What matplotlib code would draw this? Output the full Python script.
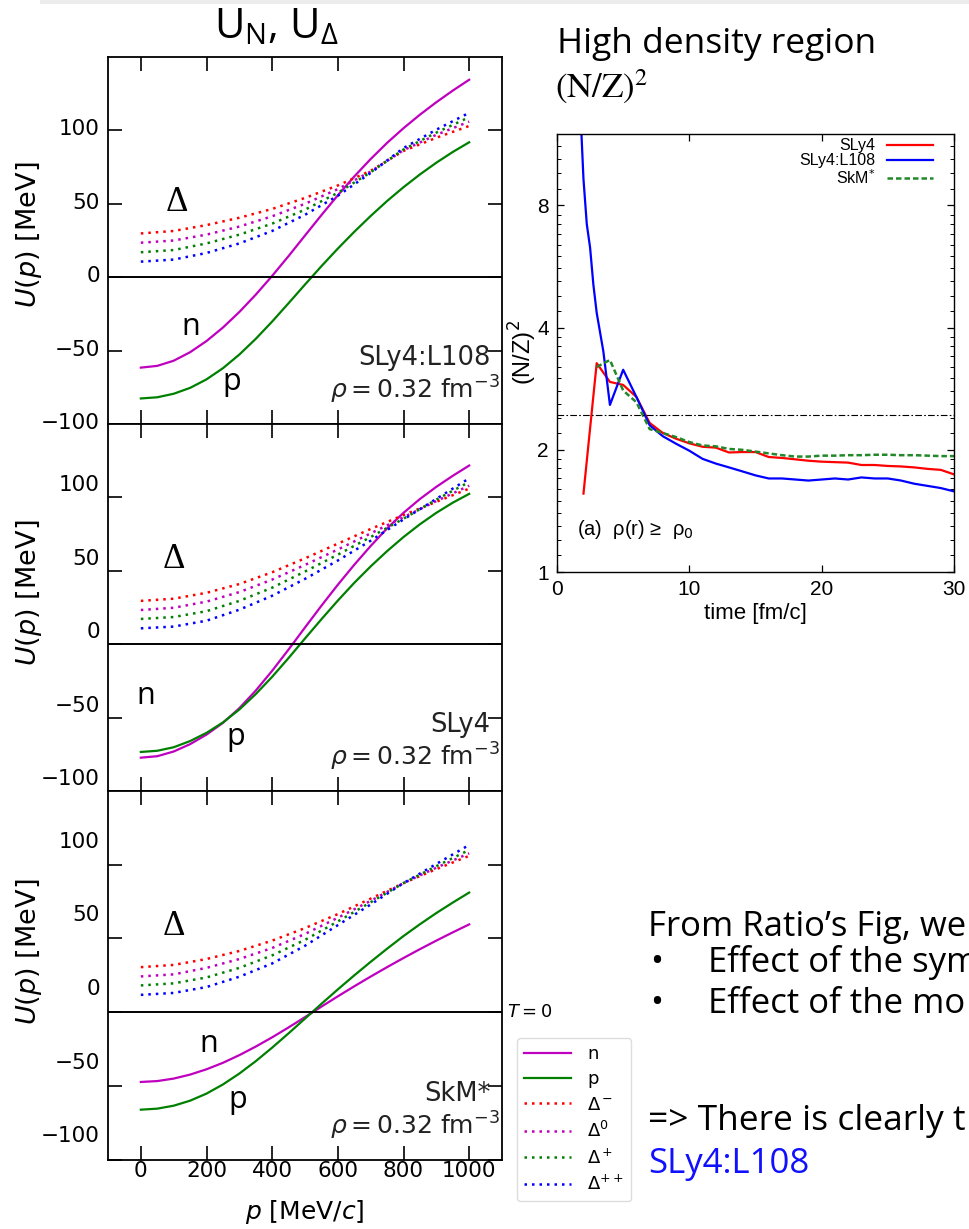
import numpy as np
import matplotlib.pyplot as plt
from matplotlib.transforms import ScaledTranslation
from matplotlib.ticker import NullFormatter
from matplotlib.patches import Rectangle

# ---------------- left: U(p) at rho = 0.32 fm^-3, T = 0 ----------------
p_nuc = list(range(0, 1001, 50))     # MeV/c (n, p curves)
p_del = list(range(0, 1001, 100))    # MeV/c (Delta curves)

# SLy4:L108
n_L108 = [-61.6, -60.4, -56.9, -51.1, -43.5, -34.3, -23.7, -11.9, 0.9, 14.4, 28.4,
          42.3, 55.8, 68.6, 80.5, 91.5, 101.5, 110.7, 119.2, 127.1, 134.5]
p_L108 = [-82.6, -81.8, -79.4, -75.4, -69.6, -62.0, -52.7, -42.0, -30.2, -17.7, -5.0,
          7.5, 19.5, 30.9, 41.7, 51.9, 61.3, 70.0, 78.0, 85.3, 91.9]
dm_L108 = [29.8, 31.5, 35.5, 40.5, 46.5, 54, 62.5, 72.5, 86, 95, 103]
d0_L108 = [23.5, 25, 29, 34.5, 41.5, 50, 60, 72, 86.5, 97, 106]
dp_L108 = [17, 18.5, 23, 29, 36.5, 46, 57.5, 71.5, 87, 98.5, 109]
dpp_L108 = [10.6, 12, 16.5, 23, 31.5, 42.5, 55.5, 71, 88, 100.5, 112]

# SLy4
n_SLy4 = [-77.3, -76.3, -73.1, -68.1, -61.6, -53.6, -43.6, -31.6, -18.1, -3.6, 11.4,
          26.2, 40.5, 54.1, 66.9, 78.9, 89.5, 98.9, 107.2, 114.7, 121.7]
p_SLy4 = [-73.4, -72.6, -70.2, -66.0, -60.4, -53.3, -44.5, -34.0, -22.2, -9.4, 3.9,
          17.0, 29.7, 41.8, 53.0, 63.4, 73.0, 81.7, 89.5, 96.4, 102.4]
dm_SLy4 = [29.5, 31, 35, 41, 49, 58.5, 68.5, 78.5, 88, 97, 106]
d0_SLy4 = [23.3, 24.8, 29, 35.5, 44, 54, 64.5, 75.5, 86.5, 97.5, 108]
dp_SLy4 = [17.2, 18.5, 22.5, 29.5, 38.5, 49.5, 61, 73, 85.5, 98.5, 110.5]
dpp_SLy4 = [10.8, 12, 16, 23.5, 33, 44.5, 57, 70.5, 85, 99, 113]

# SkM*
n_SkM = [-47.4, -46.8, -45.1, -42.4, -38.8, -34.4, -29.2, -23.4, -17.1, -10.4, -3.4,
         3.7, 10.7, 17.5, 24.1, 30.5, 36.7, 42.7, 48.5, 54.1, 59.5]
p_SkM = [-66.2, -65.5, -63.5, -60.1, -55.3, -49.1, -41.7, -33.3, -24.1, -14.4, -4.4,
         5.6, 15.4, 24.9, 34.1, 43.0, 51.6, 59.6, 67.2, 74.3, 81.1]
dm_SkM = [30.5, 32, 36, 41.5, 48.5, 57, 66.5, 77, 87.5, 97, 106]
d0_SkM = [24.2, 25.6, 30, 36, 43.5, 53, 64, 75.5, 87.5, 98, 107.7]
dp_SkM = [18.1, 19.5, 23.5, 30, 38.5, 49, 61.5, 74.5, 87.5, 99, 110]
dpp_SkM = [11.7, 13, 17, 24, 33, 45, 59, 73, 87.5, 100.5, 113.4]

forces = ['SLy4:L108', 'SLy4', 'SkM*']
delta_labels = [r'$\Delta^-$', r'$\Delta^0$', r'$\Delta^+$', r'$\Delta^{++}$']

# ---------------- right: (N/Z)^2 in the high density region ----------------
t_sly4 = [2, 3, 4, 5, 6, 7, 8, 9, 10, 11, 12, 13, 14, 15, 16, 17, 18, 19, 20,
          21, 22, 23, 24, 25, 26, 27, 28, 29, 30]
nz_sly4 = [1.56, 3.27, 2.94, 2.89, 2.70, 2.33, 2.20, 2.13, 2.075, 2.035, 2.025, 1.97,
           1.975, 1.975, 1.92, 1.91, 1.895, 1.88, 1.87, 1.865, 1.86, 1.835, 1.835,
           1.825, 1.82, 1.81, 1.795, 1.785, 1.74]
t_l108 = [1.8, 2.0, 2.25, 2.5, 2.75, 3.0, 3.5, 4, 5, 6, 7, 8, 9, 10, 11, 12, 13, 14,
          15, 16, 17, 18, 19, 20, 21, 22, 23, 24, 25, 26, 27, 28, 29, 30]
nz_l108 = [13.0, 9.3, 7.2, 6.3, 5.1, 4.35, 3.5, 2.58, 3.15, 2.70, 2.30, 2.16, 2.07,
           1.99, 1.90, 1.85, 1.81, 1.77, 1.73, 1.70, 1.70, 1.69, 1.68, 1.69, 1.70,
           1.69, 1.71, 1.70, 1.70, 1.68, 1.65, 1.63, 1.61, 1.58]
t_skm = [3, 4, 5, 6, 7, 8, 9, 10, 11, 12, 13, 14, 15, 16, 17, 18, 19, 20, 21, 22,
         23, 24, 25, 26, 27, 28, 29, 30]
nz_skm = [3.2, 3.33, 2.80, 2.62, 2.25, 2.20, 2.15, 2.09, 2.05, 2.04, 2.01, 2.0, 1.98,
          1.96, 1.94, 1.925, 1.925, 1.935, 1.935, 1.94, 1.94, 1.945, 1.945, 1.94,
          1.94, 1.935, 1.93, 1.93]
nz_initial = 2.44

W, H = 969, 1229
fig = plt.figure(figsize=(W / 100, H / 100), dpi=100)
fig.add_artist(Rectangle((40 / W, 1 - 4 / H), 1, 4 / H, transform=fig.transFigure,
                         color='#ececec', lw=0))


def box(x0, y0, x1, y1):
    # pixel box (origin top-left) -> figure fraction rect
    return [x0 / W, 1 - y1 / H, (x1 - x0) / W, (y1 - y0) / H]


left_boxes = [(108, 57, 502, 424), (108, 424, 502, 791), (108, 791, 502, 1159.5)]
all_n = [n_L108, n_SLy4, n_SkM]
all_p = [p_L108, p_SLy4, p_SkM]
all_d = [[dm_L108, d0_L108, dp_L108, dpp_L108],
         [dm_SLy4, d0_SLy4, dp_SLy4, dpp_SLy4],
         [dm_SkM, d0_SkM, dp_SkM, dpp_SkM]]
delta_colors = ['r', 'm', 'g', 'b']
label_shift = [3, 14, 25]          # px, tick labels sit above the ticks in the slide
ylab_y = [0.515, 0.54, 0.565]
n_pos = [(125, -39.5), (-13, -40.7), (178, -27)]
p_pos = [(247, -77), (262, -69), (267, -65)]
D_pos = [(76, 45), (66, 52), (66, 52)]

yt = [-100, -50, 0, 50, 100]
for i in range(3):
    ax = fig.add_axes(box(*left_boxes[i]))
    ln_n, = ax.plot(p_nuc, all_n[i], color='m', lw=1.6, label='n')
    ln_p, = ax.plot(p_nuc, all_p[i], color='g', lw=1.6, label='p')
    dl = []
    for d, c, lab in zip(all_d[i], delta_colors, delta_labels):
        h, = ax.plot(p_del, d, color=c, lw=1.8, ls=(0, (1, 2)), label=lab)
        dl.append(h)
    ax.axhline(0, color='k', lw=1.4)
    ax.set_xlim(-100, 1100)
    ax.set_ylim(-100, 150)
    ax.set_xticks([0, 200, 400, 600, 800, 1000])
    ax.set_yticks(yt)
    ax.tick_params(direction='in', length=10, width=1.2, top=True, right=True,
                   labelleft=False, labelbottom=(i == 2), labelsize=15.5, pad=1)
    for s in ax.spines.values():
        s.set_linewidth(1.3)
    tr = ax.get_yaxis_transform() + ScaledTranslation(-0.08, label_shift[i] / 100,
                                                      fig.dpi_scale_trans)
    for v in yt:
        ax.text(0, v, str(v).replace('-', '\u2212'), transform=tr, ha='right',
                va='center_baseline', fontsize=15.5)
    ax.text(-0.2, ylab_y[i], r'$U(p)$ [MeV]', transform=ax.transAxes, rotation=90,
            ha='center', va='center', fontsize=19.5)
    ax.text(0.97, 0.16, forces[i], transform=ax.transAxes, ha='right',
            va='baseline', fontsize=18.5, color='#222222')
    ax.text(0.995, 0.068, r'$\rho = 0.32$ fm$^{-3}$', transform=ax.transAxes,
            ha='right', va='baseline', fontsize=18, color='#222222')
    ax.text(*n_pos[i], 'n', fontsize=22, family='Open Sans', va='baseline')
    ax.text(*p_pos[i], 'p', fontsize=22, family='Open Sans', va='baseline')
    ax.text(*D_pos[i], 'Δ', fontsize=25, family='Liberation Serif', va='baseline')
    if i == 2:
        ax.set_xlabel(r'$p$ [MeV/$c$]', fontsize=18, labelpad=12)
        ax.text(1.013, 0, r'$T = 0$', transform=ax.get_yaxis_transform(),
                ha='left', va='center', fontsize=13)
        fig.legend([ln_n, ln_p] + dl, ['n', 'p'] + delta_labels,
                   loc='upper left', bbox_to_anchor=(517 / W, 1 - 1038 / H),
                   borderaxespad=0, fontsize=13, handlelength=2.6,
                   handletextpad=0.9, labelspacing=0.4, framealpha=1,
                   edgecolor='#dddddd')

# ---------------- right chart ----------------
ax4 = fig.add_axes(box(557, 134, 954, 572))
ax4.plot(t_sly4, nz_sly4, color='#ff0000', lw=1.6, label='SLy4')
ax4.plot(t_l108, nz_l108, color='#0000ff', lw=1.6, label='SLy4:L108')
ax4.plot(t_skm, nz_skm, color='#23882a', lw=1.8, ls=(0, (2.2, 1.2)), label='SkM$^{*}$')
ax4.axhline(nz_initial, color='k', lw=0.8, ls=(0, (6, 2, 1.5, 2)))
ax4.set_yscale('log', base=2)
ax4.set_xlim(0, 30)
ax4.set_ylim(1, 12)
ax4.set_xticks([0, 10, 20, 30])
ax4.set_yticks([1, 2, 4, 8], labels=['1', '2', '4', '8'])
minor = np.r_[np.arange(1.1, 1.99, 0.1), np.arange(2.2, 3.99, 0.2),
              np.arange(4.4, 7.99, 0.4), np.arange(8.8, 11.99, 0.8)]
ax4.set_yticks(minor, minor=True)
ax4.yaxis.set_minor_formatter(NullFormatter())
ax4.tick_params(which='both', direction='in', top=True, right=True,
                labelsize=15, labelfontfamily='Liberation Sans', pad=6)
ax4.tick_params(which='major', length=5, width=0.9)
ax4.tick_params(which='minor', length=3, width=0.7)
for s in ax4.spines.values():
    s.set_linewidth(1.0)
ax4.text(0.5, -0.094, 'time [fm/c]', transform=ax4.transAxes, ha='center',
         va='center', fontsize=16, family='Liberation Sans')
ax4.text(-0.086, 0.5, '(N/Z)$^2$', transform=ax4.transAxes, rotation=90,
         ha='center', va='center', fontsize=17, family='Liberation Sans')
ax4.text(0.05, 0.096, '(a)  ρ(r) ≥  ρ$_0$', transform=ax4.transAxes, ha='left',
         va='center', fontsize=14.5, family=['Liberation Sans', 'DejaVu Sans'])
ax4.legend(loc='upper right', bbox_to_anchor=(0.947, 0.99), frameon=False,
           markerfirst=False, handlelength=2.9, handletextpad=0.7,
           labelspacing=0.0, borderpad=0, borderaxespad=0,
           prop={'family': 'Liberation Sans', 'size': 11.5})

# ---------------- slide text ----------------
sans = ['Open Sans', 'DejaVu Sans']
fig.text(276 / W, 1 - 38 / H, r'U$_\mathregular{N}$, U$_\mathregular{Δ}$',
         ha='center', va='baseline', fontsize=30, family=sans)
fig.text(557 / W, 1 - 53 / H, 'High density region', ha='left', va='baseline',
         fontsize=25.5, family=sans)
fig.text(555 / W, 1 - 98 / H, r'$\mathrm{(N/Z)}^{2}$', ha='left', va='baseline',
         fontsize=25, math_fontfamily='stix')
fig.text(648 / W, 1 - 936 / H, 'From Ratio’s Fig, we', ha='left', va='baseline',
         fontsize=25, family=sans)
for yb, s in [(972, 'Effect of the sym'), (1013, 'Effect of the mo')]:
    fig.text(650 / W, 1 - yb / H, '•', ha='left', va='baseline', fontsize=25, family=sans)
    fig.text(708 / W, 1 - yb / H, s, ha='left', va='baseline', fontsize=25, family=sans)
fig.text(648 / W, 1 - 1130 / H, '=> There is clearly t', ha='left', va='baseline',
         fontsize=25.5, family=sans)
fig.text(648 / W, 1 - 1173 / H, 'SLy4:L108', ha='left', va='baseline',
         fontsize=25, family=sans, color='#1010ff')

fig.savefig('out.png', dpi=100)
